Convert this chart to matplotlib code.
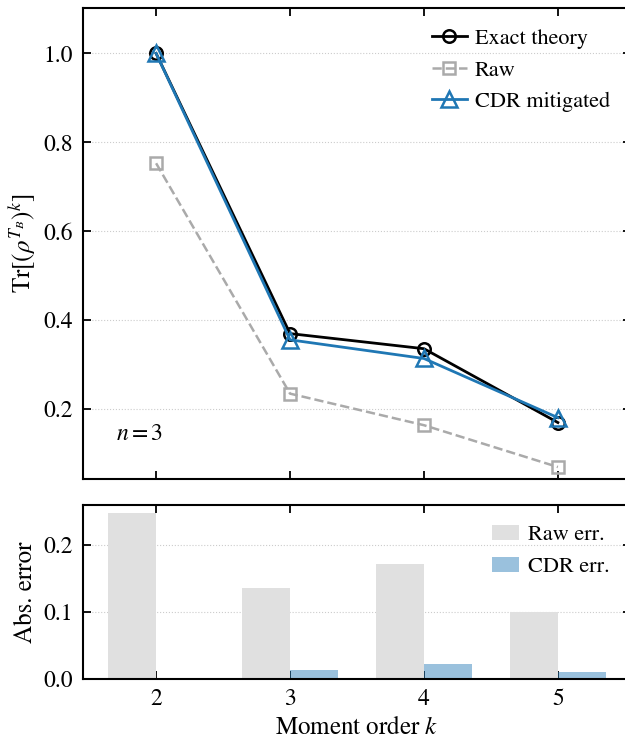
import numpy as np
import matplotlib
matplotlib.use("Agg")
import matplotlib.pyplot as plt

plt.rcParams["font.family"] = "serif"
plt.rcParams["font.serif"] = ["STIXGeneral", "Liberation Serif", "DejaVu Serif"]
plt.rcParams["mathtext.fontset"] = "stix"
plt.rcParams["font.size"] = 18

# moment orders and measured values
k = np.array([2, 3, 4, 5])
exact = np.array([1.000, 0.370, 0.336, 0.170])
raw = np.array([0.753, 0.235, 0.164, 0.070])
cdr = np.array([1.000, 0.356, 0.314, 0.181])

raw_err = np.abs(raw - exact)
cdr_err = np.abs(cdr - exact)

blue = "#1f77b4"
grey = "#aaaaaa"

fig = plt.figure(figsize=(6.25, 7.39), dpi=100)
ax1 = fig.add_axes([0.1328, 0.3518, 0.8768, 0.6373])
ax2 = fig.add_axes([0.1328, 0.0812, 0.8768, 0.2355], sharex=ax1)

# ── top: moments ──
ax1.plot(k, exact, color="black", marker="o", mfc="none", mew=1.8, ms=9,
         lw=2, label="Exact theory", zorder=3)
ax1.plot(k, raw, color=grey, ls="--", marker="s", mfc="none", mew=1.8, ms=8.5,
         lw=1.8, label="Raw", zorder=2)
ax1.plot(k, cdr, color=blue, marker="^", mfc="none", mew=1.8, ms=11,
         lw=2, label="CDR mitigated", zorder=4)
ax1.set_ylim(0.043, 1.102)
ax1.set_yticks([0.2, 0.4, 0.6, 0.8, 1.0])
ax1.set_ylabel(r"$\mathrm{Tr}[(\rho^{T_B})^k]$", fontsize=18)
ax1.text(0.06, 0.083, r"$n=3$", transform=ax1.transAxes, fontsize=17)
ax1.legend(loc="upper right", frameon=False, fontsize=16, handlelength=1.6,
           handletextpad=0.35, labelspacing=0.5, borderaxespad=0.3,
           bbox_to_anchor=(0.99, 0.99))
plt.setp(ax1.get_xticklabels(), visible=False)

# ── bottom: absolute errors ──
w = 0.36
ax2.bar(k - w / 2, raw_err, width=w, color="#e0e0e0", label="Raw err.", zorder=2)
ax2.bar(k + w / 2, cdr_err, width=w, color=blue, alpha=0.45, lw=0,
        label="CDR err.", zorder=2)
ax2.set_yticks([0.0, 0.1, 0.2])
ax2.set_ylabel("Abs. error", fontsize=18)
ax2.set_xlabel(r"Moment order $k$", fontsize=18)
ax2.set_xticks(k)
ax2.legend(loc="upper right", frameon=False, fontsize=16, handlelength=1.25,
           handletextpad=0.4, labelspacing=0.5, borderaxespad=0.3,
           bbox_to_anchor=(0.99, 0.975))

for ax in (ax1, ax2):
    ax.grid(axis="y", ls=":", color="#cccccc", lw=0.8, zorder=0)
    ax.set_axisbelow(True)
    ax.tick_params(direction="in", top=True, right=True, length=6, width=1.3,
                   labelsize=17, pad=7)
    for s in ax.spines.values():
        s.set_linewidth(1.5)

fig.savefig("out.png", dpi=100)
